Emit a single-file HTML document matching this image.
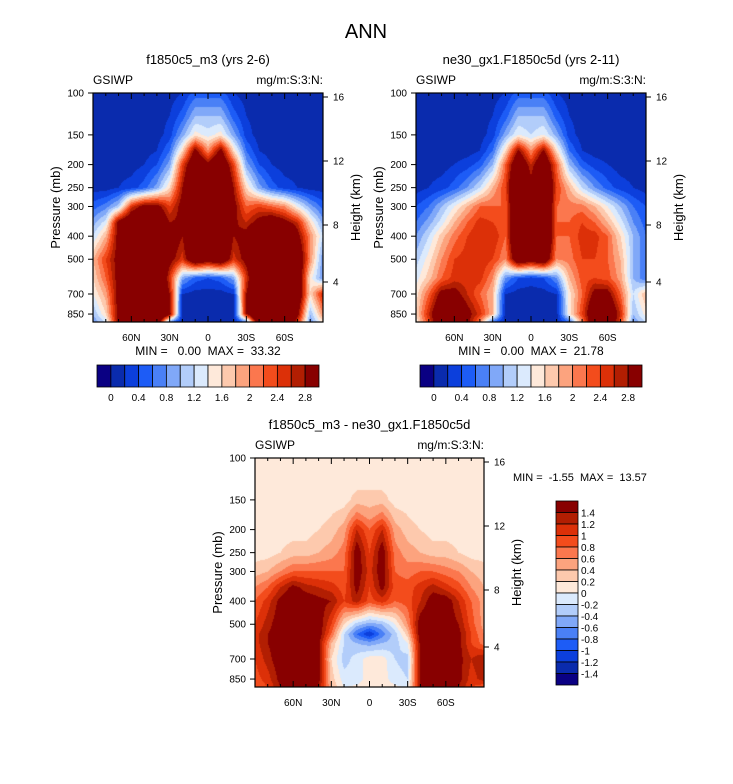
<!DOCTYPE html>
<html><head><meta charset="utf-8">
<style>
body{margin:0;background:#fff;}
#wrap{position:relative;width:733px;height:784px;overflow:hidden;font-family:"Liberation Sans",sans-serif;}
canvas{position:absolute;left:0;top:0;}
svg{position:absolute;left:0;top:0;}
svg text{white-space:pre;}
</style></head>
<body>
<div id="wrap">
<canvas id="cv" width="733" height="784"></canvas>
<svg id="sv" width="733" height="784" font-family="Liberation Sans, sans-serif">
<text x="366" y="38" font-size="20" text-anchor="middle">ANN</text>
</svg>
</div>
<script>
// ---- data ----
const lats = [90,80,70,60,50,40,30,20,10,0,-10,-20,-30,-40,-50,-60,-70,-80,-90];
const levelsTop = [100,125,150,175,200,250,300,350,400,500,600,700,850,925];
const fieldA = [
[.1,.1,.1,.1,.1,.1,.1,.2,.5,.5,.5,.2,.1,.1,.1,.1,.1,.1,.1],
[.1,.1,.1,.1,.1,.1,.2,.5,1.0,1.0,1.0,.5,.2,.1,.1,.1,.1,.1,.1],
[.1,.1,.1,.1,.1,.1,.3,.9,1.5,1.3,1.5,.9,.3,.1,.1,.1,.1,.1,.1],
[.1,.1,.1,.1,.1,.2,.6,1.6,3,2,3,1.6,.6,.2,.1,.1,.1,.1,.1],
[.1,.1,.1,.1,.2,.4,.9,2.4,3.5,3,3.5,2.4,.9,.4,.2,.1,.1,.1,.1],
[.1,.1,.2,.3,.5,.9,1.6,2.8,4,4,4,2.8,1.6,.9,.5,.3,.2,.1,.1],
[.5,.7,1.1,2.5,3,3,2.4,3,4,4,4,3,2.2,2.4,2.2,2,1.4,.9,.5],
[.9,1.3,3,3.5,3.5,3.5,2.8,2.9,4,4,4,2.9,2.6,3,3.3,3,2.6,1.6,.9],
[1.2,1.8,3,4,4,4,3.2,2.8,4,4,4,2.8,3,4,4,4,3,2,1.2],
[1.8,2.4,3,4,4,4,3,2.5,3.5,3.2,3.5,2.5,3,4,4,4,3.5,2,.8],
[1.6,2.2,3,4,4,4,2.5,.9,.5,.4,.5,.9,2.5,4,4,4,3.5,1.5,.8],
[1.4,1.9,3,4,4,4,2.8,.2,.1,.1,.1,.2,2.8,4,4,4,3.5,1.6,2.6],
[1,1.6,3,4,4,4,3,.1,.1,.1,.1,.1,2.8,4,4,4,3,1,2],
[.8,1.2,3,4,4,3.5,.5,.1,.1,.1,.1,.1,.5,3.5,4,4,2.5,.8,1.5]];
const fieldB = [
[.1,.1,.1,.1,.1,.1,.1,.2,.5,.5,.5,.2,.1,.1,.1,.1,.1,.1,.1],
[.1,.1,.1,.1,.1,.1,.2,.5,1.0,1.0,1.0,.5,.2,.1,.1,.1,.1,.1,.1],
[.1,.1,.1,.1,.1,.1,.3,.9,1.4,1.2,1.4,.9,.3,.1,.1,.1,.1,.1,.1],
[.1,.1,.1,.1,.1,.2,.6,1.6,2.9,2,2.9,1.6,.6,.2,.1,.1,.1,.1,.1],
[.1,.1,.1,.2,.3,.5,1.0,2.2,3.5,2.6,3.5,2.2,1.0,.5,.3,.2,.1,.1,.1],
[.1,.2,.3,.5,.8,1.2,1.8,2.4,4,3,4,2.4,1.8,1.2,.8,.5,.3,.2,.1],
[.4,.6,1,1.4,1.8,2.2,2.2,2.2,4,3,4,2.2,2.1,2.1,1.8,1.4,1,.6,.4],
[.6,.9,1.3,1.8,2.2,2.5,2.4,2.2,4,3,4,2.2,2.2,2.4,2.2,1.8,1.3,.8,.5],
[.8,1.2,1.7,2.1,2.4,2.6,2.6,2.2,4,3.2,4,2.2,2.2,2.5,2.5,2.2,1.6,1,.6],
[1.1,1.5,2,2.4,2.5,2.6,2.4,2,3.5,3.2,3.5,2,2.1,2.4,2.4,2.2,1.8,1,.6],
[1.3,1.7,2.2,2.5,2.5,2.5,2,.8,.4,.3,.4,.8,1.8,2.3,2.4,2.3,1.9,1,.6],
[1.5,2.2,3,3,2.6,2.2,1.8,.2,.1,.1,.1,.2,1.5,2.2,3,3,2.2,1.2,1.8],
[1.6,2.6,3.5,3.5,3,2.5,1.8,.1,.1,.1,.1,.1,1.5,2.4,3.5,3.5,2.6,1,1.5],
[1.4,2.4,3.5,3.5,3,2,.5,.1,.1,.1,.1,.1,.5,2,3.5,3.5,2.4,.8,1.2]];
const levelsDiff = [100,125,150,175,200,250,300,350,400,500,550,600,700,850,925];
const fieldDiff = [
[.1,.1,.1,.1,.1,.1,.1,.1,.1,.1,.1,.1,.1,.1,.1,.1,.1,.1,.1],
[.1,.1,.1,.1,.1,.1,.1,.1,.1,.1,.1,.1,.1,.1,.1,.1,.1,.1,.1],
[.1,.1,.1,.1,.1,.1,.1,.1,.3,.3,.3,.1,.1,.1,.1,.1,.1,.1,.1],
[.1,.1,.1,.1,.1,.1,.2,.3,.7,.5,.7,.3,.2,.1,.1,.1,.1,.1,.1],
[.1,.1,.1,.1,.1,.2,.3,.5,1.2,.8,1.2,.5,.3,.2,.1,.1,.1,.1,.1],
[.1,.1,.2,.3,.3,.4,.5,.7,1.6,1,1.6,.7,.5,.4,.3,.3,.2,.1,.1],
[.3,.4,.6,.8,.8,.8,.8,.8,1.6,1.1,1.6,.8,.7,.8,.8,.7,.6,.4,.3],
[.6,.8,1.2,1.5,1.3,1.2,1.1,.9,1.5,1,1.5,.9,.9,1.1,1.3,1.1,.9,.6,.4],
[.8,1.1,1.5,1.6,1.6,1.5,1.4,1,1.3,.9,1.1,.8,.9,1.2,1.6,1.6,1.2,.8,.5],
[1,1.3,1.6,1.6,1.6,1.6,1,.2,-.3,-.5,-.4,0,.6,1.6,1.6,1.6,1.4,.9,.5],
[1.1,1.4,1.6,1.6,1.6,1.6,.8,-.2,-.8,-1.2,-.7,-.3,.3,1.6,1.6,1.6,1.5,1,.6],
[1.1,1.4,1.6,1.6,1.6,1.5,.4,-.2,-.4,-.5,-.4,-.3,0,1.5,1.6,1.6,1.5,1,.7],
[1,1.3,1.6,1.6,1.6,1.5,.2,-.3,-.1,.1,.1,-.2,-.3,1.5,1.6,1.6,1.5,1.2,1.4],
[.9,1.1,1.5,1.6,1.6,1.5,.3,-.1,-.1,.1,.1,-.1,-.2,1.5,1.6,1.6,1.5,1.1,1.3],
[.8,1,1.4,1.6,1.6,1.4,.4,0,.05,.1,.1,.05,0,1.4,1.6,1.6,1.4,1,.8]];
const contourA = [0,0.2,0.4,0.6,0.8,1,1.2,1.4,1.6,1.8,2,2.2,2.4,2.6,2.8];
const contourDiff = [-1.4,-1.2,-1,-0.8,-0.6,-0.4,-0.2,0,0.2,0.4,0.6,0.8,1,1.2,1.4];
const cbLabelsTop = ["0","0.4","0.8","1.2","1.6","2","2.4","2.8"];
const cbLabelsDiff = ["1.4","1.2","1","0.8","0.6","0.4","0.2","0","-0.2","-0.4","-0.6","-0.8","-1","-1.2","-1.4"];
const latTicks = [60,30,0,-30,-60];
const latTickLabels = ["60N","30N","0","30S","60S"];
const presTicks = [100,150,200,250,300,400,500,700,850];
const hgtTicks = ["16","12","8","4"];
const colors = ['#0a0083','#0a2bad','#0c3fdc','#1d5cf6','#4a80f6','#80a8f8','#b2cdfa','#dbeafd','#fee9da','#fdc9ad','#fca37e','#fb774e','#f34c1c','#dc3008','#b21e02','#880000'];

const NS='http://www.w3.org/2000/svg';
const sv=document.getElementById('sv');
const ctx=document.getElementById('cv').getContext('2d');
function el(tag,attrs,txt){const e=document.createElementNS(NS,tag);for(const k in attrs)e.setAttribute(k,attrs[k]);if(txt!==undefined)e.textContent=txt;sv.appendChild(e);return e;}

function drawPanel(cfg){
  const {x0,x1,y0,y1,levels,field,thr}=cfg;
  const lnTop=Math.log(100), lnBot=Math.log(918);
  const xOf=lat=>x0+(90-lat)/180*(x1-x0);
  const yOf=p=>y0+(Math.log(p)-lnTop)/(lnBot-lnTop)*(y1-y0);
  const lnL=levels.map(Math.log);
  const img=ctx.createImageData(x1-x0,y1-y0);
  for(let py=0;py<y1-y0;py++){
    const lp=lnTop+(py+0.5)/(y1-y0)*(lnBot-lnTop);
    let j=0;while(j<lnL.length-2&&lp>lnL[j+1])j++;
    let ty=(lp-lnL[j])/(lnL[j+1]-lnL[j]);ty=Math.max(0,Math.min(1,ty));
    for(let px=0;px<x1-x0;px++){
      const lat=90-(px+0.5)/(x1-x0)*180;
      const fi=(90-lat)/10;let i=Math.min(17,Math.floor(fi));const tx=fi-i;
      const v=(field[j][i]*(1-tx)+field[j][i+1]*tx)*(1-ty)+(field[j+1][i]*(1-tx)+field[j+1][i+1]*tx)*ty;
      let b=0;while(b<thr.length&&v>=thr[b])b++;
      const c=colors[b];const o=(py*(x1-x0)+px)*4;
      img.data[o]=parseInt(c.substr(1,2),16);img.data[o+1]=parseInt(c.substr(3,2),16);img.data[o+2]=parseInt(c.substr(5,2),16);img.data[o+3]=255;
    }
  }
  ctx.putImageData(img,x0,y0);
  const g=cfg.name;
  const fr=el('rect',{x:x0,y:y0,width:x1-x0,height:y1-y0,fill:'none',stroke:'#000','stroke-width':1.2});
  
  for(let lat=80;lat>=-80;lat-=10){
    const x=xOf(lat);const major=lat%30===0;const L=major?6:3;
    el('line',{x1:x,y1:y1,x2:x,y2:y1-L,stroke:'#000'});
    el('line',{x1:x,y1:y0,x2:x,y2:y0+L,stroke:'#000'});
  }
  latTicks.forEach((lat,k)=>{const t=el('text',{x:xOf(lat),y:y1+19,'font-size':10,'text-anchor':'middle'},latTickLabels[k]);
    });
  presTicks.forEach(p=>{const y=yOf(p);el('line',{x1:x0,y1:y,x2:x0-5,y2:y,stroke:'#000'});
    const t=el('text',{x:x0-9,y:y+3.5,'font-size':10,'text-anchor':'end'},String(p));
    });
  const hOff=[4,68,132,189];
  hgtTicks.forEach((h,k)=>{const y=y0+hOff[k];el('line',{x1:x1,y1:y,x2:x1+5,y2:y,stroke:'#000'});
    const t=el('text',{x:x1+10,y:y+3.5,'font-size':10},h);
    });
  const cy=(y0+y1)/2;
  let t=el('text',{x:x0-33,y:cy,'font-size':13,'text-anchor':'middle',transform:`rotate(-90 ${x0-33} ${cy})`},'Pressure (mb)');
  
  t=el('text',{x:x1+37,y:cy,'font-size':13,'text-anchor':'middle',transform:`rotate(-90 ${x1+37} ${cy})`},'Height (km)');
  
  t=el('text',{x:(x0+x1)/2,y:y0-29,'font-size':13,'text-anchor':'middle'},cfg.title);
  
  t=el('text',{x:x0,y:y0-9,'font-size':12},'GSIWP');
  
  t=el('text',{x:x1,y:y0-9,'font-size':12,'text-anchor':'end'},'mg/m:S:3:N:');
  
}
function hColorbar(x0,x1,y0,y1,name){
  const w=(x1-x0)/16;
  colors.forEach((c,k)=>{const r=el('rect',{x:x0+k*w,y:y0,width:w,height:y1-y0,fill:c,stroke:'#000','stroke-width':0.8});
    });
  cbLabelsTop.forEach((s,k)=>{const t=el('text',{x:x0+(1+2*k)*w,y:y1+14,'font-size':10,'text-anchor':'middle'},s);
    });
}
drawPanel({name:'left-panel',x0:93,x1:323,y0:93,y1:322,levels:levelsTop,field:fieldA,thr:contourA,title:'f1850c5_m3 (yrs 2-6)'});
drawPanel({name:'right-panel',x0:416,x1:646,y0:93,y1:322,levels:levelsTop,field:fieldB,thr:contourA,title:'ne30_gx1.F1850c5d (yrs 2-11)'});
drawPanel({name:'diff-panel',x0:255,x1:484,y0:458,y1:687,levels:levelsDiff,field:fieldDiff,thr:contourDiff,title:'f1850c5_m3 - ne30_gx1.F1850c5d'});
hColorbar(97,319,365,387,'left-colorbar');
hColorbar(420,642,365,387,'right-colorbar');
let t=el('text',{x:208,y:355,'font-size':12,'text-anchor':'middle'},'MIN =   0.00  MAX =  33.32');

t=el('text',{x:531,y:355,'font-size':12,'text-anchor':'middle'},'MIN =   0.00  MAX =  21.78');

t=el('text',{x:513,y:481,'font-size':11},'MIN =  -1.55  MAX =  13.57');

// vertical colorbar
(function(){const x0=556,x1=578,y0=501,y1=685,h=(y1-y0)/16;
  for(let k=0;k<16;k++){const r=el('rect',{x:x0,y:y0+k*h,width:x1-x0,height:h,fill:colors[15-k],stroke:'#000','stroke-width':0.8});
    }
  cbLabelsDiff.forEach((s,k)=>{const t=el('text',{x:x1+3,y:y0+(k+1)*h+4,'font-size':10},s);
    });
})();
</script>
</body></html>
